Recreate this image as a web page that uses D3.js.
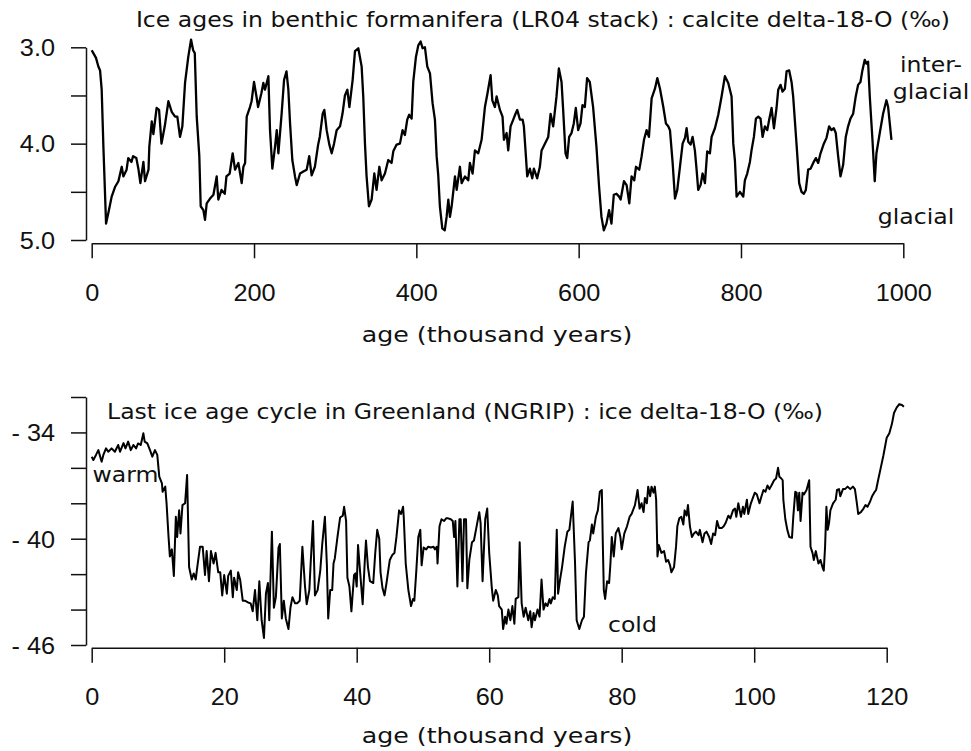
<!DOCTYPE html>
<html>
<head>
<meta charset="utf-8">
<script src="https://cdn.jsdelivr.net/npm/d3@7"></script>
<style>
  body { margin: 0; background: #fff; }
  svg { display: block; }
</style>
</head>
<body>
<script>
// LR04 benthic stack (age in kyr, d18O in permil)
var lr04Age = [0,2,5.3,8.2,10.3,12.3,14.4,17.7,20.5,24.6,28.7,32.9,37,39,43,45,49,51,55,57.5,60,63.7,65.7,70,71,74,76,80,83,86,90,94.5,98.6,102.7,105.5,108.8,111.7,115,119,122.4,125,127,129.4,132.6,134.3,137.6,139.6,141.7,145.8,150,154,156,160,164,166,170,173.7,176.6,180.7,184.8,186.9,189,191,195,197,200,203,205,209,211.5,213.5,217.7,219.7,222.6,225.9,228,230,234,237,240,242.3,244.4,247.2,250.5,252.6,256.7,260.8,264.9,268,271,275,279,281,284.6,286.6,289.5,292.8,295.7,298.6,301.8,306,309,312,315,317.5,321.5,324.4,328.5,332.6,334.6,336.7,338.7,341.6,344.9,348.2,351,354.4,357.2,361.3,365.4,369.5,371.6,375.7,379.8,383,385.9,388.8,391.2,394.2,396.2,399.5,402.4,405.3,407.7,410.6,413.5,416.8,420,422.9,425,427,429,432,435,437.3,439.4,441.4,443.5,447.6,449.7,453.7,455.8,459.9,464,466,469.3,472.2,476.3,480.4,484.5,487.4,491.5,493.6,496.8,498.9,503,506.2,507.9,511.2,513.2,516.1,519.4,522.2,524.3,527.6,530.9,532.5,535,536.6,539.9,542.8,544.8,548.9,552.2,554.3,558.4,562.5,565.4,568.6,572.7,575.6,578.9,580.9,583.8,585.9,588.3,591.2,594,596.5,599.4,602.3,604.7,607.6,610.4,613.7,617.8,621.9,625.2,628.1,631,634.2,637.5,640.4,643.3,646.6,649.8,651.7,655.8,659.1,662.4,665.2,668.5,670.6,674.7,677.6,680.5,683.7,686.6,689.9,694,696.9,700.2,704.3,707.5,710.4,712.5,715.8,718.7,721.5,724.8,728.1,731,733,735,737.9,740.4,743.2,745.3,747.3,750.2,752.7,755.6,758.4,761.7,763.8,767.9,772,776.1,780.2,784.3,788.4,790.5,792.5,794.6,798.7,802.8,804.8,807.7,811,813,815.9,818.4,821.3,824.1,826.6,829.5,832.4,834.8,837.7,840.6,843.8,845.9,848.8,851.2,854.1,856.2,859.4,862.3,864.3,868.4,871.7,874.6,877.5,879.9,882.8,885.7,889,892.3,895.1,898,902.1,905.4,908.6,911.5,914.4,916.8,919.7,922.6,925.9,929.1,932,934.9,938.2,941.4,944.3,947.2,949.6,952.5,954.6,956.6,958.7,962,964.8,966.9,971,975.1,979.2,981.3,985.4];
var lr04Val = [3.03,3.06,3.11,3.2,3.24,3.44,4.03,4.83,4.72,4.55,4.45,4.39,4.24,4.34,4.27,4.15,4.19,4.13,4.15,4.26,4.41,4.19,4.39,4.27,4.03,3.77,3.9,3.63,3.65,4.0,3.82,3.56,3.67,3.72,3.72,3.93,3.82,3.37,3.1,2.92,3.03,3.06,3.72,4.13,4.65,4.69,4.79,4.62,4.57,4.53,4.34,4.58,4.48,4.52,4.34,4.31,4.1,4.27,4.2,4.41,4.24,4.2,3.72,3.62,3.56,3.36,3.51,3.62,3.48,3.37,3.44,3.3,3.86,4.26,4.03,3.86,4.1,3.69,3.34,3.25,3.44,3.79,4.17,4.34,4.43,4.31,4.29,4.27,4.13,4.33,4.24,4.01,3.93,3.69,3.65,3.86,4.01,4.1,4.0,3.86,3.82,3.69,3.5,3.44,3.62,3.34,3.04,3.01,3.2,3.51,4.0,4.34,4.65,4.58,4.31,4.48,4.24,4.38,4.31,4.17,4.2,4.08,4.01,4.0,3.86,3.91,3.75,3.7,3.74,3.36,3.1,2.98,2.94,3.01,3.0,3.2,3.27,3.58,3.75,4.13,4.33,4.65,4.88,4.9,4.76,4.58,4.76,4.65,4.34,4.48,4.24,4.41,4.34,4.38,4.2,4.31,4.07,4.1,3.96,3.62,3.49,3.29,3.55,3.62,3.51,3.65,3.72,3.96,3.89,4.07,3.82,3.75,3.69,3.65,3.75,3.75,3.82,4.13,4.34,4.26,4.36,4.26,4.36,4.24,4.07,4.0,3.93,3.69,3.82,3.51,3.22,3.36,3.65,4.1,4.15,3.93,3.89,3.79,3.63,3.86,3.79,3.6,3.62,3.32,3.36,3.62,4.03,4.45,4.76,4.9,4.83,4.69,4.83,4.53,4.52,4.55,4.58,4.39,4.43,4.62,4.34,4.38,4.24,4.27,4.13,3.96,3.86,3.93,3.53,3.43,3.32,3.43,3.62,3.79,3.82,3.86,4.2,4.57,4.48,4.24,4.0,3.94,3.84,3.98,4.01,3.93,4.07,4.27,4.48,4.43,4.31,4.41,4.08,4.1,3.93,3.84,3.7,3.51,3.3,3.37,3.51,4.0,4.17,4.55,4.5,4.55,4.38,4.31,4.19,4.07,3.93,3.74,3.72,3.74,3.93,3.82,3.86,3.75,3.63,3.84,3.63,3.44,3.39,3.46,3.43,3.25,3.24,3.36,3.51,4.0,4.41,4.5,4.52,4.48,4.27,4.26,4.2,4.15,4.2,4.1,4.0,3.94,3.82,3.86,3.84,3.89,4.13,4.34,4.22,3.93,3.82,3.74,3.69,3.51,3.39,3.36,3.24,3.13,3.17,3.15,3.51,3.96,4.39,4.1,3.89,3.69,3.55,3.62,3.96];

// NGRIP ice core (age in kyr, d18O in permil)
var ngripAge = [0,0.25,0.65,1.0,1.5,1.76,2.16,2.5,3.0,3.5,4.0,4.28,4.8,5.1,5.5,5.9,6.3,6.7,7.0,7.4,7.8,8.0,8.4,8.8,9.15,9.55,9.9,10.2,10.6,10.7,11.1,11.3,11.6,11.8,12.1,12.4,12.7,12.9,13.2,13.4,13.7,14.1,14.4,14.7,15.1,15.4,15.7,15.9,16.35,16.75,17.1,17.35,17.7,18.0,18.4,18.7,19.1,19.4,19.7,20.0,20.4,20.6,21.0,21.3,21.5,21.9,22.1,22.4,22.8,23.1,23.6,24.0,24.3,24.65,25.0,25.3,25.65,26.0,26.3,26.6,26.8,27.2,27.5,27.8,28.2,28.4,28.7,29.0,29.3,29.7,30.0,30.3,30.7,31.0,31.4,31.8,32.2,32.45,32.85,33.05,33.4,33.7,34.1,34.5,34.8,35.2,35.5,35.7,36.0,36.3,36.5,36.7,37.1,37.5,37.9,38.1,38.4,38.6,38.9,39.2,39.6,39.8,40.0,40.2,40.5,40.9,41.2,41.4,41.7,42.0,42.5,42.8,43.1,43.4,43.6,43.9,44.2,44.5,44.8,45.0,45.4,45.7,46.0,46.4,46.7,47.0,47.1,47.4,47.8,48.2,48.5,48.7,49.0,49.3,49.6,49.8,50.1,50.5,50.8,51.2,51.6,51.8,52.1,52.2,52.5,52.8,53.2,53.5,53.8,54.2,54.5,54.7,54.9,55.2,55.5,55.7,55.96,56.2,56.5,56.7,57.0,57.4,57.7,58.1,58.5,58.7,59.0,59.4,59.7,60.0,60.4,60.6,61.0,61.3,61.5,61.9,62.1,62.4,62.6,62.9,63.2,63.5,63.8,64.0,64.4,64.6,64.9,65.2,65.5,65.9,66.2,66.4,66.7,66.9,67.3,67.6,67.9,68.2,68.5,68.8,69.1,69.3,69.6,69.9,70.2,70.4,70.7,71.0,71.4,71.8,72.1,72.3,72.6,72.95,73.2,73.6,74.0,74.3,74.6,75.0,75.2,75.5,75.7,76.1,76.4,76.7,77.0,77.15,77.3,77.5,77.8,78.1,78.3,78.5,78.8,79.1,79.5,79.8,80.0,80.4,80.8,81.2,81.5,82.0,82.4,82.7,83.0,83.3,83.5,83.8,84.0,84.3,84.5,84.8,85.0,85.2,85.4,85.6,86.0,86.4,86.7,87.0,87.3,87.5,87.9,88.2,88.4,88.7,89.0,89.3,89.5,89.8,90.0,90.3,90.6,90.9,91.2,91.6,91.8,92.2,92.5,92.8,93.2,93.5,93.8,94.1,94.4,94.7,95.1,95.4,95.7,96.1,96.4,96.8,97.1,97.3,97.6,98.0,98.3,98.5,98.9,99.1,99.5,99.8,100.1,100.4,100.8,101.1,101.4,101.7,102.0,102.3,102.6,103.0,103.3,103.6,103.8,104.1,104.3,104.4,104.7,105.0,105.3,105.7,105.9,106.2,106.4,106.6,106.8,107.0,107.3,107.5,107.9,108.3,108.5,108.8,109.0,109.3,109.7,110.0,110.3,110.5,110.7,110.9,111.1,111.3,111.5,111.9,112.3,112.5,112.8,113.0,113.4,113.7,114.1,114.5,114.9,115.2,115.5,115.7,116.1,116.5,116.8,117.1,117.5,117.8,118.1,118.4,118.7,119.1,119.5,120.0,120.4,120.8,121.1,121.5,121.9,122.3,122.6];
var ngripVal = [-35.37,-35.56,-35.27,-35.0,-35.65,-35.27,-34.9,-35.09,-34.9,-35.09,-34.71,-35.09,-34.6,-34.9,-34.52,-35.0,-34.71,-34.9,-34.62,-34.71,-34.05,-34.52,-34.62,-35.0,-35.37,-35.0,-35.27,-36.5,-36.87,-37.35,-37.06,-38.0,-39.9,-41.0,-40.6,-42.1,-38.76,-39.9,-38.4,-39.7,-38.1,-38.0,-36.4,-41.6,-42.3,-41.96,-42.3,-41.7,-40.45,-40.45,-42.05,-40.7,-42.4,-40.7,-41.4,-40.8,-41.9,-41.9,-43.2,-42.05,-43.1,-42.1,-41.8,-43.3,-42.2,-42.9,-41.9,-42.3,-43.5,-43.5,-43.6,-43.65,-44.1,-42.9,-44.6,-42.4,-44.6,-45.6,-43.1,-42.5,-44.6,-39.6,-43.9,-43.3,-40.5,-40.3,-44.5,-43.5,-44.5,-45.1,-43.9,-43.3,-43.65,-43.65,-43.5,-40.45,-42.7,-43.7,-42.9,-41.4,-39.0,-43.2,-42.9,-41.8,-40.3,-38.76,-41.5,-44.5,-42.9,-42.9,-41.4,-41.1,-39.9,-38.8,-38.7,-38.2,-39.0,-42.2,-42.7,-44.1,-42.05,-41.96,-42.7,-40.36,-41.8,-43.7,-41.4,-40.1,-41.6,-42.4,-42.5,-40.8,-39.5,-40.0,-41.9,-42.8,-43.2,-42.5,-41.7,-41.2,-40.9,-40.8,-39.9,-38.4,-38.6,-38.2,-38.76,-41.4,-42.9,-43.8,-43.4,-43.5,-41.8,-39.9,-39.5,-41.5,-40.5,-40.6,-40.45,-40.5,-40.45,-40.6,-40.45,-41.4,-39.3,-38.9,-39.0,-38.85,-38.85,-38.9,-39.0,-39.9,-39.0,-42.7,-38.9,-38.9,-42.4,-38.9,-38.9,-42.8,-41.2,-40.2,-40.1,-39.3,-38.5,-39.1,-42.4,-38.9,-38.3,-40.8,-42.8,-43.5,-42.9,-43.2,-43.8,-44.0,-45.1,-44.4,-44.8,-44.0,-44.6,-43.8,-44.8,-43.4,-43.3,-40.2,-43.65,-44.4,-43.9,-44.6,-44.1,-45.0,-44.2,-44.6,-44.0,-44.4,-42.3,-44.0,-43.65,-43.8,-43.4,-43.65,-43.3,-43.4,-39.5,-43.1,-42.3,-41.6,-40.45,-39.6,-39.5,-38.85,-37.9,-41.3,-44.6,-45.1,-44.6,-44.4,-41.96,-40.2,-40.1,-39.2,-39.7,-38.76,-38.4,-37.35,-37.25,-40.3,-42.9,-43.4,-42.4,-42.5,-41.4,-39.9,-41.0,-39.7,-39.4,-39.9,-40.6,-39.7,-39.3,-38.76,-38.6,-38.1,-37.25,-38.3,-38.0,-38.5,-37.7,-38.0,-37.06,-37.6,-37.06,-37.4,-37.06,-37.8,-41.0,-40.36,-40.8,-40.7,-41.3,-41.2,-41.5,-41.9,-41.6,-40.45,-39.3,-38.85,-38.76,-39.2,-38.4,-38.7,-38.1,-39.3,-39.9,-39.7,-39.6,-39.8,-39.5,-40.2,-39.7,-39.6,-39.9,-40.3,-39.7,-39.8,-39.0,-39.4,-39.4,-39.3,-39.1,-38.7,-38.85,-38.4,-38.3,-38.76,-38.0,-38.76,-38.2,-38.6,-37.8,-38.6,-38.0,-37.7,-37.4,-37.5,-38.0,-37.6,-37.25,-37.35,-37.0,-37.2,-37.0,-36.7,-36.6,-36.0,-36.5,-36.6,-36.7,-37.8,-38.9,-39.5,-39.9,-39.95,-38.76,-37.35,-37.4,-38.4,-37.4,-39.0,-37.4,-37.5,-37.25,-36.7,-40.45,-40.8,-41.2,-40.7,-41.4,-41.2,-41.6,-41.8,-40.45,-38.2,-39.5,-39.1,-38.4,-38.0,-37.8,-37.25,-37.2,-37.6,-37.2,-37.2,-37.06,-37.2,-37.06,-37.2,-38.0,-38.6,-38.5,-38.3,-38.1,-38.2,-37.9,-37.6,-37.4,-37.25,-36.7,-36.0,-35.3,-34.3,-34.05,-33.5,-32.9,-32.6,-32.4,-32.45,-32.55];

// ticks
var topXTicks = [0, 200, 400, 600, 800, 1000];
var topYTicks = [3.0, 3.5, 4.0, 4.5, 5.0];
var topYLabelled = [3.0, 4.0, 5.0];
var botXTicks = [0, 20, 40, 60, 80, 100, 120];
var botYTicks = [-32, -34, -36, -38, -40, -42, -44, -46];
var botYLabelled = [-34, -40, -46];

var W = 971, H = 751;
var sansFont = "'DejaVu Sans', Verdana, sans-serif";
var tickFont = "'Liberation Sans', Arial, Helvetica, sans-serif";
var stretch = 1.15, tickStretch = 1.1;

var svg = d3.select("body").append("svg")
    .attr("width", W)
    .attr("height", H);

// text helper, the original picture is a bit wider than tall
function label(txt, x, y, anchor, size) {
  svg.append("text")
     .attr("transform", "translate(" + x + "," + y + ") scale(" + stretch + ",1)")
     .attr("text-anchor", anchor || "start")
     .style("font-family", sansFont)
     .style("font-size", (size || 20.5) + "px")
     .attr("fill", "#111")
     .text(txt);
}

function styleAxis(g) {
  g.selectAll("path.domain").attr("stroke", "#111").attr("stroke-width", 1.5);
  g.selectAll(".tick line").attr("stroke", "#111").attr("stroke-width", 1.5);
  g.selectAll(".tick text")
    .style("font-family", tickFont)
    .style("font-size", "23px")
    .attr("fill", "#111");
}

// ---------- top panel ----------
var x1 = d3.scaleLinear().domain([0, 1000]).range([91.7, 903.3]);
var y1 = d3.scaleLinear().domain([3, 5]).range([47.3, 240]);

var gy1 = svg.append("g").attr("transform", "translate(86,0)")
    .call(d3.axisLeft(y1).tickValues(topYTicks).tickSize(15).tickSizeOuter(0)
      .tickFormat(function(d) { return topYLabelled.indexOf(d) >= 0 ? d.toFixed(1) : ""; }));
styleAxis(gy1);
gy1.selectAll(".tick text")
   .attr("x", -31 / tickStretch).attr("dy", "0.36em")
   .attr("transform", "scale(" + tickStretch + ",1)");

var gx1 = svg.append("g").attr("transform", "translate(0,243.3)")
    .call(d3.axisBottom(x1).tickValues(topXTicks).tickSize(15).tickSizeOuter(0)
      .tickFormat(d3.format("d")));
styleAxis(gx1);
gx1.selectAll(".tick text").attr("y", 57.7).attr("dy", 0)
   .attr("transform", "scale(" + tickStretch + ",1)");

var line1 = d3.line().x(function(d) { return x1(d[0]); }).y(function(d) { return y1(d[1]); });
svg.append("path")
   .datum(d3.zip(lr04Age, lr04Val))
   .attr("d", line1)
   .attr("fill", "none")
   .attr("stroke", "#000")
   .attr("stroke-width", 2.3)
   .attr("stroke-linejoin", "round");

label("Ice ages in benthic formanifera (LR04 stack) : calcite delta-18-O (\u2030)", 543, 27, "middle");
label("age (thousand years)", 497, 342, "middle", 22);
label("inter-", 931, 71.5, "middle");
label("glacial", 931, 99, "middle");
label("glacial", 916, 224, "middle");

// ---------- bottom panel ----------
var x2 = d3.scaleLinear().domain([0, 120]).range([91.7, 886.7]);
var y2 = d3.scaleLinear().domain([-32, -46]).range([397, 645]);

var gy2 = svg.append("g").attr("transform", "translate(86,0)")
    .call(d3.axisLeft(y2).tickValues(botYTicks).tickSize(15).tickSizeOuter(0)
      .tickFormat(function(d) { return botYLabelled.indexOf(d) >= 0 ? "- " + Math.abs(d) : ""; }));
styleAxis(gy2);
gy2.selectAll(".tick text")
   .attr("x", -31 / tickStretch).attr("dy", "0.36em")
   .attr("transform", "scale(" + tickStretch + ",1)");

var gx2 = svg.append("g").attr("transform", "translate(0,647.7)")
    .call(d3.axisBottom(x2).tickValues(botXTicks).tickSize(15).tickSizeOuter(0));
styleAxis(gx2);
gx2.selectAll(".tick text").attr("y", 57.3).attr("dy", 0)
   .attr("transform", "scale(" + tickStretch + ",1)");

var line2 = d3.line().x(function(d) { return x2(d[0]); }).y(function(d) { return y2(d[1]); });
svg.append("path")
   .datum(d3.zip(ngripAge, ngripVal))
   .attr("d", line2)
   .attr("fill", "none")
   .attr("stroke", "#000")
   .attr("stroke-width", 2)
   .attr("stroke-linejoin", "round");

label("Last ice age cycle in Greenland (NGRIP) : ice delta-18-O (\u2030)", 107, 419, "start");
label("age (thousand years)", 497, 743, "middle", 22);
label("warm", 92.5, 481.5, "start");
label("cold", 608, 631.5, "start");
</script>
</body>
</html>
